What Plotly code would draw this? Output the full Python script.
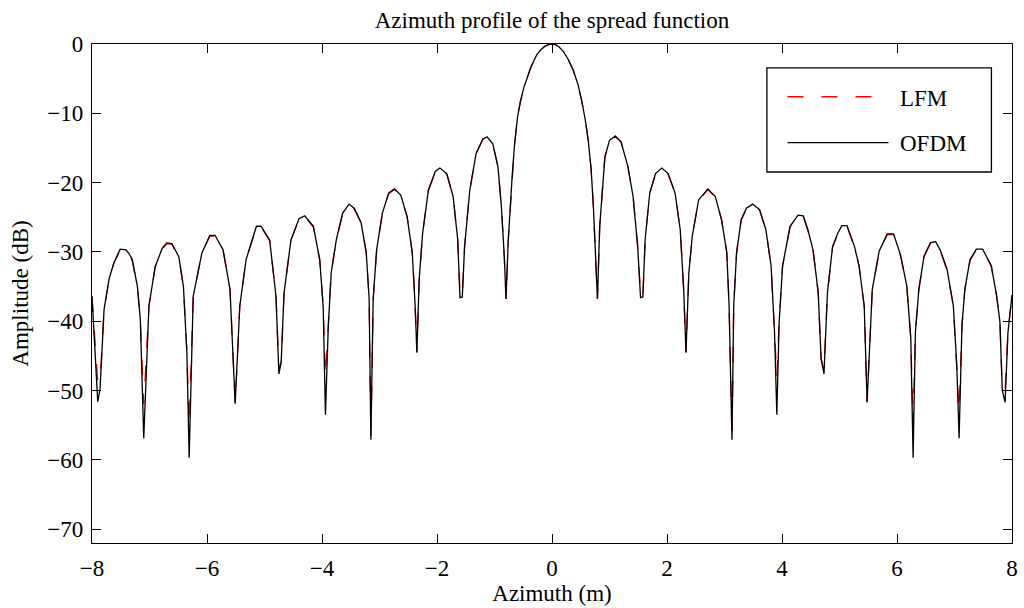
import plotly.graph_objects as go

# ---- data ----
azimuth_m = [
    -8.00, -7.90, -7.86, -7.79, -7.70, -7.62, -7.51, -7.41, -7.36, -7.30, -7.21, -7.16,
    -7.10, -7.01, -6.90, -6.78, -6.70, -6.61, -6.49, -6.41, -6.35,
    -6.31, -6.24, -6.09, -5.95, -5.86, -5.72, -5.60,
    -5.51, -5.43, -5.32, -5.14, -5.06, -4.91, -4.80,
    -4.75, -4.71, -4.66, -4.54, -4.40, -4.30, -4.15, -4.04, -3.98,
    -3.94, -3.89, -3.84, -3.75, -3.64, -3.53, -3.44, -3.32, -3.23, -3.18,
    -3.15, -3.11, -3.05, -2.95, -2.84, -2.74, -2.63, -2.52, -2.43, -2.38,
    -2.35, -2.31, -2.25, -2.15, -2.03, -1.95, -1.83, -1.72, -1.64,
    -1.60, -1.56, -1.52, -1.43, -1.32, -1.20, -1.13, -1.03, -0.94, -0.88, -0.83,
    -0.80, -0.76, -0.69, -0.65, -0.60, -0.55, -0.49, -0.43, -0.37, -0.31, -0.26,
    -0.19, -0.12, -0.06,
    0.00,
    0.06, 0.12, 0.20, 0.28, 0.37, 0.45, 0.52, 0.58, 0.63, 0.68, 0.72,
    0.79, 0.83, 0.92, 1.00, 1.10, 1.20, 1.32, 1.41, 1.49,
    1.54, 1.58, 1.62, 1.70, 1.80, 1.91, 2.02, 2.14, 2.23, 2.29,
    2.33, 2.38, 2.44, 2.55, 2.71, 2.84, 2.95, 3.04, 3.08,
    3.13, 3.16, 3.21, 3.29, 3.38, 3.49, 3.61, 3.72, 3.81, 3.87,
    3.91, 3.95, 4.01, 4.14, 4.28, 4.37, 4.45, 4.54, 4.63, 4.68,
    4.73, 4.79, 4.88, 4.97, 5.04, 5.13, 5.26, 5.34, 5.43,
    5.48, 5.57, 5.69, 5.83, 5.94, 6.06, 6.17, 6.24,
    6.28, 6.32, 6.38, 6.47, 6.58, 6.67, 6.75, 6.87, 6.98, 7.04,
    7.08, 7.13, 7.18, 7.27, 7.38, 7.49, 7.64, 7.73, 7.79, 7.83,
    7.88, 7.93, 8.00,
]

ofdm_db = [
    -36.4, -51.6, -49.8, -38.3, -33.8, -31.6, -29.6, -29.7, -30.2, -31.1, -35.0, -39.7,
    -56.9, -37.8, -32.1, -29.5, -28.7, -28.8, -30.7, -35.0, -44.5,
    -59.7, -36.4, -30.2, -27.6, -27.6, -29.7, -35.4,
    -51.9, -37.8, -31.1, -26.3, -26.3, -28.3, -36.4,
    -47.6, -45.9, -35.9, -28.3, -25.2, -24.8, -26.3, -31.1, -37.8,
    -53.5, -40.6, -33.0, -28.2, -24.4, -23.1, -23.7, -25.8, -30.1, -36.8,
    -57.1, -36.8, -29.7, -24.4, -21.5, -20.9, -21.8, -24.9, -30.1, -37.8,
    -44.5, -34.0, -27.3, -21.1, -18.4, -17.9, -18.7, -22.0, -28.2,
    -36.6, -36.5, -29.2, -21.1, -15.8, -13.7, -13.4, -14.4, -17.7, -23.5, -30.6,
    -36.8, -28.2, -18.7, -14.4, -10.6, -8.3, -6.3, -4.7, -3.4, -2.3, -1.5,
    -0.8, -0.3, -0.1,
    0.0,
    -0.1, -0.4, -1.1, -2.2, -3.8, -5.8, -8.3, -11.0, -13.9, -18.0, -23.5,
    -36.8, -26.3, -16.3, -13.9, -13.3, -14.1, -17.7, -22.0, -29.2,
    -36.6, -36.5, -28.2, -21.5, -18.7, -17.9, -18.7, -21.5, -26.8, -35.4,
    -44.5, -33.0, -27.7, -22.5, -20.9, -22.0, -25.4, -30.1, -37.8,
    -57.1, -37.8, -30.1, -25.4, -23.7, -23.1, -23.9, -26.8, -32.0, -41.6,
    -53.5, -40.2, -32.0, -26.3, -24.7, -24.8, -26.8, -29.7, -35.9, -45.4,
    -47.6, -35.9, -29.2, -27.3, -26.2, -26.2, -29.2, -32.0, -37.8,
    -51.7, -35.4, -29.9, -27.4, -27.4, -30.4, -34.9, -42.5,
    -59.7, -41.6, -35.4, -30.6, -28.7, -28.5, -29.7, -32.5, -37.8, -46.4,
    -56.9, -40.6, -35.4, -31.1, -29.6, -29.6, -32.0, -36.2, -40.1, -49.9,
    -51.7, -41.6, -36.2,
]

lfm_db = [
    -36.4, -48.8, -48.8, -38.3, -33.8, -31.6, -29.8, -29.8, -30.4, -31.3, -35.0, -39.7,
    -52.0, -37.8, -32.1, -29.6, -28.8, -28.9, -30.8, -35.0, -44.5,
    -55.0, -36.4, -30.2, -27.7, -27.7, -29.8, -35.4,
    -51.9, -37.8, -31.1, -26.4, -26.4, -28.4, -36.4,
    -47.0, -45.9, -35.9, -28.3, -25.3, -24.9, -26.4, -31.1, -37.8,
    -48.0, -40.6, -33.0, -28.2, -24.5, -23.2, -23.8, -25.8, -30.1, -36.8,
    -57.1, -36.8, -29.7, -24.4, -21.6, -21.0, -21.9, -24.9, -30.1, -37.8,
    -44.5, -34.0, -27.3, -21.1, -18.5, -18.0, -18.8, -22.0, -28.2,
    -36.0, -36.5, -29.2, -21.1, -15.8, -13.7, -13.4, -14.4, -17.7, -23.5, -30.6,
    -36.8, -28.2, -18.7, -14.4, -10.6, -8.3, -6.3, -4.7, -3.4, -2.3, -1.5,
    -0.8, -0.3, -0.1,
    0.0,
    -0.1, -0.4, -1.1, -2.2, -3.8, -5.8, -8.3, -11.0, -13.9, -18.0, -23.5,
    -36.8, -26.3, -16.3, -13.9, -13.3, -14.1, -17.7, -22.0, -29.2,
    -36.0, -36.5, -28.2, -21.5, -18.8, -18.0, -18.8, -21.5, -26.8, -35.4,
    -44.5, -33.0, -27.7, -22.6, -21.0, -22.1, -25.4, -30.1, -37.8,
    -57.1, -37.8, -30.1, -25.4, -23.8, -23.2, -24.0, -26.8, -32.0, -41.6,
    -48.0, -40.2, -32.0, -26.4, -24.8, -24.9, -26.9, -29.7, -35.9, -45.4,
    -47.0, -35.9, -29.3, -27.4, -26.3, -26.3, -29.3, -32.0, -37.8,
    -51.7, -35.4, -30.0, -27.5, -27.5, -30.5, -34.9, -42.5,
    -55.0, -41.6, -35.4, -30.7, -28.8, -28.6, -29.8, -32.6, -37.8, -46.4,
    -53.0, -40.6, -35.4, -31.2, -29.7, -29.7, -32.1, -36.2, -40.1, -49.5,
    -50.0, -41.6, -36.2,
]

x_ticks = [-8, -6, -4, -2, 0, 2, 4, 6, 8]
y_ticks = [-70, -60, -50, -40, -30, -20, -10, 0]
series_names = ["LFM", "OFDM"]

FONT = "Liberation Serif, Times New Roman, serif"
FS = 23

fig = go.Figure()
fig.add_trace(go.Scatter(
    x=azimuth_m, y=lfm_db, mode="lines", name=series_names[0],
    line=dict(color="#ff0000", width=1.3, dash="16px,18px"),
))
fig.add_trace(go.Scatter(
    x=azimuth_m, y=ofdm_db, mode="lines", name=series_names[1],
    line=dict(color="#000000", width=1.3),
))

axis_common = dict(
    showgrid=False, zeroline=False, showline=True, linecolor="black", linewidth=1.3,
    mirror="ticks", ticks="inside", ticklen=9, tickwidth=1.1, tickcolor="black",
    tickfont=dict(family=FONT, size=FS, color="black"),
)

fig.update_layout(
    width=1024, height=608,
    paper_bgcolor="white", plot_bgcolor="white",
    margin=dict(l=92, r=6, t=44, b=63),
    showlegend=False,
    title=dict(
        text="Azimuth profile of the spread function",
        font=dict(family=FONT, size=FS, color="black"),
        x=0.5, xref="paper", xanchor="center",
        y=1 - 20 / 608, yref="container", yanchor="middle",
    ),
    xaxis=dict(
        range=[-8, 8], tickvals=x_ticks, ticklabelstandoff=4,
        title=dict(text="Azimuth (m)", font=dict(family=FONT, size=FS, color="black"), standoff=5),
        **axis_common,
    ),
    yaxis=dict(
        range=[-72, 0], tickvals=y_ticks, ticklabelstandoff=3,
        title=dict(text="Amplitude (dB)", font=dict(family=FONT, size=FS, color="black"), standoff=12),
        **axis_common,
    ),
)

# Legend box drawn MATLAB-style (long line samples)
def px_x(p):
    return (p - 91.7) / (1017.7 - 91.7)

def px_y(p):
    return (545.0 - p) / (545.0 - 43.7)

fig.add_shape(type="rect", xref="paper", yref="paper",
              x0=px_x(771), x1=px_x(997), y0=px_y(172.3), y1=px_y(67.7),
              line=dict(color="black", width=1.3), fillcolor="white", layer="above")
fig.add_shape(type="line", xref="paper", yref="paper",
              x0=px_x(791.7), x1=px_x(878), y0=px_y(96.7), y1=px_y(96.7),
              line=dict(color="#ff0000", width=1.3, dash="16px,18px"), layer="above")
fig.add_shape(type="line", xref="paper", yref="paper",
              x0=px_x(791.7), x1=px_x(893.3), y0=px_y(142.7), y1=px_y(142.7),
              line=dict(color="black", width=1.3), layer="above")
for name, yy in zip(series_names, [98.3, 143.3]):
    fig.add_annotation(xref="paper", yref="paper", x=px_x(903), y=px_y(yy),
                       text=name, showarrow=False, xanchor="left", yanchor="middle",
                       font=dict(family=FONT, size=FS, color="black"))

fig.write_html("out.html",
               config={"displayModeBar": False},
               post_script="document.body.style.margin='0px';document.body.style.overflow='hidden';")
